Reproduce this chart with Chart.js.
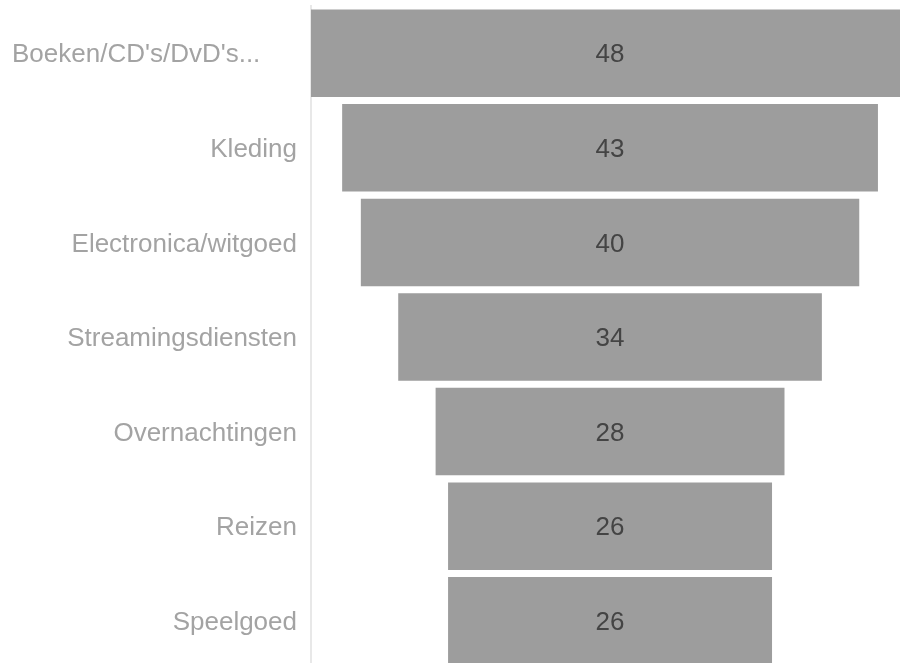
<!DOCTYPE html>
<html>
<head>
<meta charset="utf-8">
<script src="https://cdn.jsdelivr.net/npm/chart.js@4/dist/chart.umd.min.js"></script>
<style>
    html, body { margin: 0; padding: 0; background: #fff; }
    #wrap { width: 900px; height: 663px; overflow: hidden; }
    #binnen { width: 900px; height: 668px; position: relative; }
</style>
</head>
<body>
<div id="wrap"><div id="binnen"><canvas id="chart"></canvas></div></div>
<script>
// categorieen en waarden
const categorieen = ["Boeken/CD's/DvD's...", "Kleding", "Electronica/witgoed", "Streamingsdiensten", "Overnachtingen", "Reizen", "Speelgoed"];
const waarden = [48, 43, 40, 34, 28, 26, 26];

// trechter: elke balk rond het midden (0)
const balken = waarden.map(v => [-v / 2, v / 2]);

const lettertype = "'Liberation Sans', Arial, sans-serif";

// labels links en waarden in de balken zelf tekenen
const tekstPlugin = {
    id: 'tekstPlugin',
    afterDatasetsDraw(chart) {
        const ctx = chart.ctx;
        const yAs = chart.scales.y;
        const meta = chart.getDatasetMeta(0);
        ctx.save();
        ctx.font = '26px ' + lettertype;
        ctx.textBaseline = 'middle';

        categorieen.forEach((naam, i) => {
            const y = yAs.getPixelForTick(i) + 2;
            ctx.fillStyle = '#a3a3a3';
            if (naam.endsWith('...')) {
                ctx.textAlign = 'left';
                ctx.fillText(naam, 12, y);
            } else {
                ctx.textAlign = 'right';
                ctx.fillText(naam, 297, y);
            }
        });

        meta.data.forEach((bar, i) => {
            const midden = (bar.x + bar.base) / 2;
            ctx.fillStyle = '#444444';
            ctx.textAlign = 'center';
            ctx.fillText(String(waarden[i]), midden, bar.y + 2);
        });
        ctx.restore();
    }
};

const ctx = document.getElementById('chart').getContext('2d');
const chart = new Chart(ctx, {
    type: 'bar',
    data: {
        labels: categorieen,
        datasets: [{
            data: balken,
            backgroundColor: '#9d9d9d',
            borderWidth: 0,
            barPercentage: 0.925,
            categoryPercentage: 1
        }]
    },
    options: {
        indexAxis: 'y',
        responsive: true,
        maintainAspectRatio: false,
        animation: false,
        layout: {
            padding: { left: 0, right: 0, top: 6, bottom: 0 }
        },
        plugins: {
            legend: { display: false },
            tooltip: { enabled: false }
        },
        scales: {
            x: {
                display: false,
                min: -24,
                max: 23.27
            },
            y: {
                grid: { display: false },
                border: { display: true, color: '#e8e8e8', width: 2 },
                ticks: { display: false },
                afterFit(scale) {
                    scale.width = 311;
                }
            }
        }
    },
    plugins: [tekstPlugin]
});
</script>
</body>
</html>
